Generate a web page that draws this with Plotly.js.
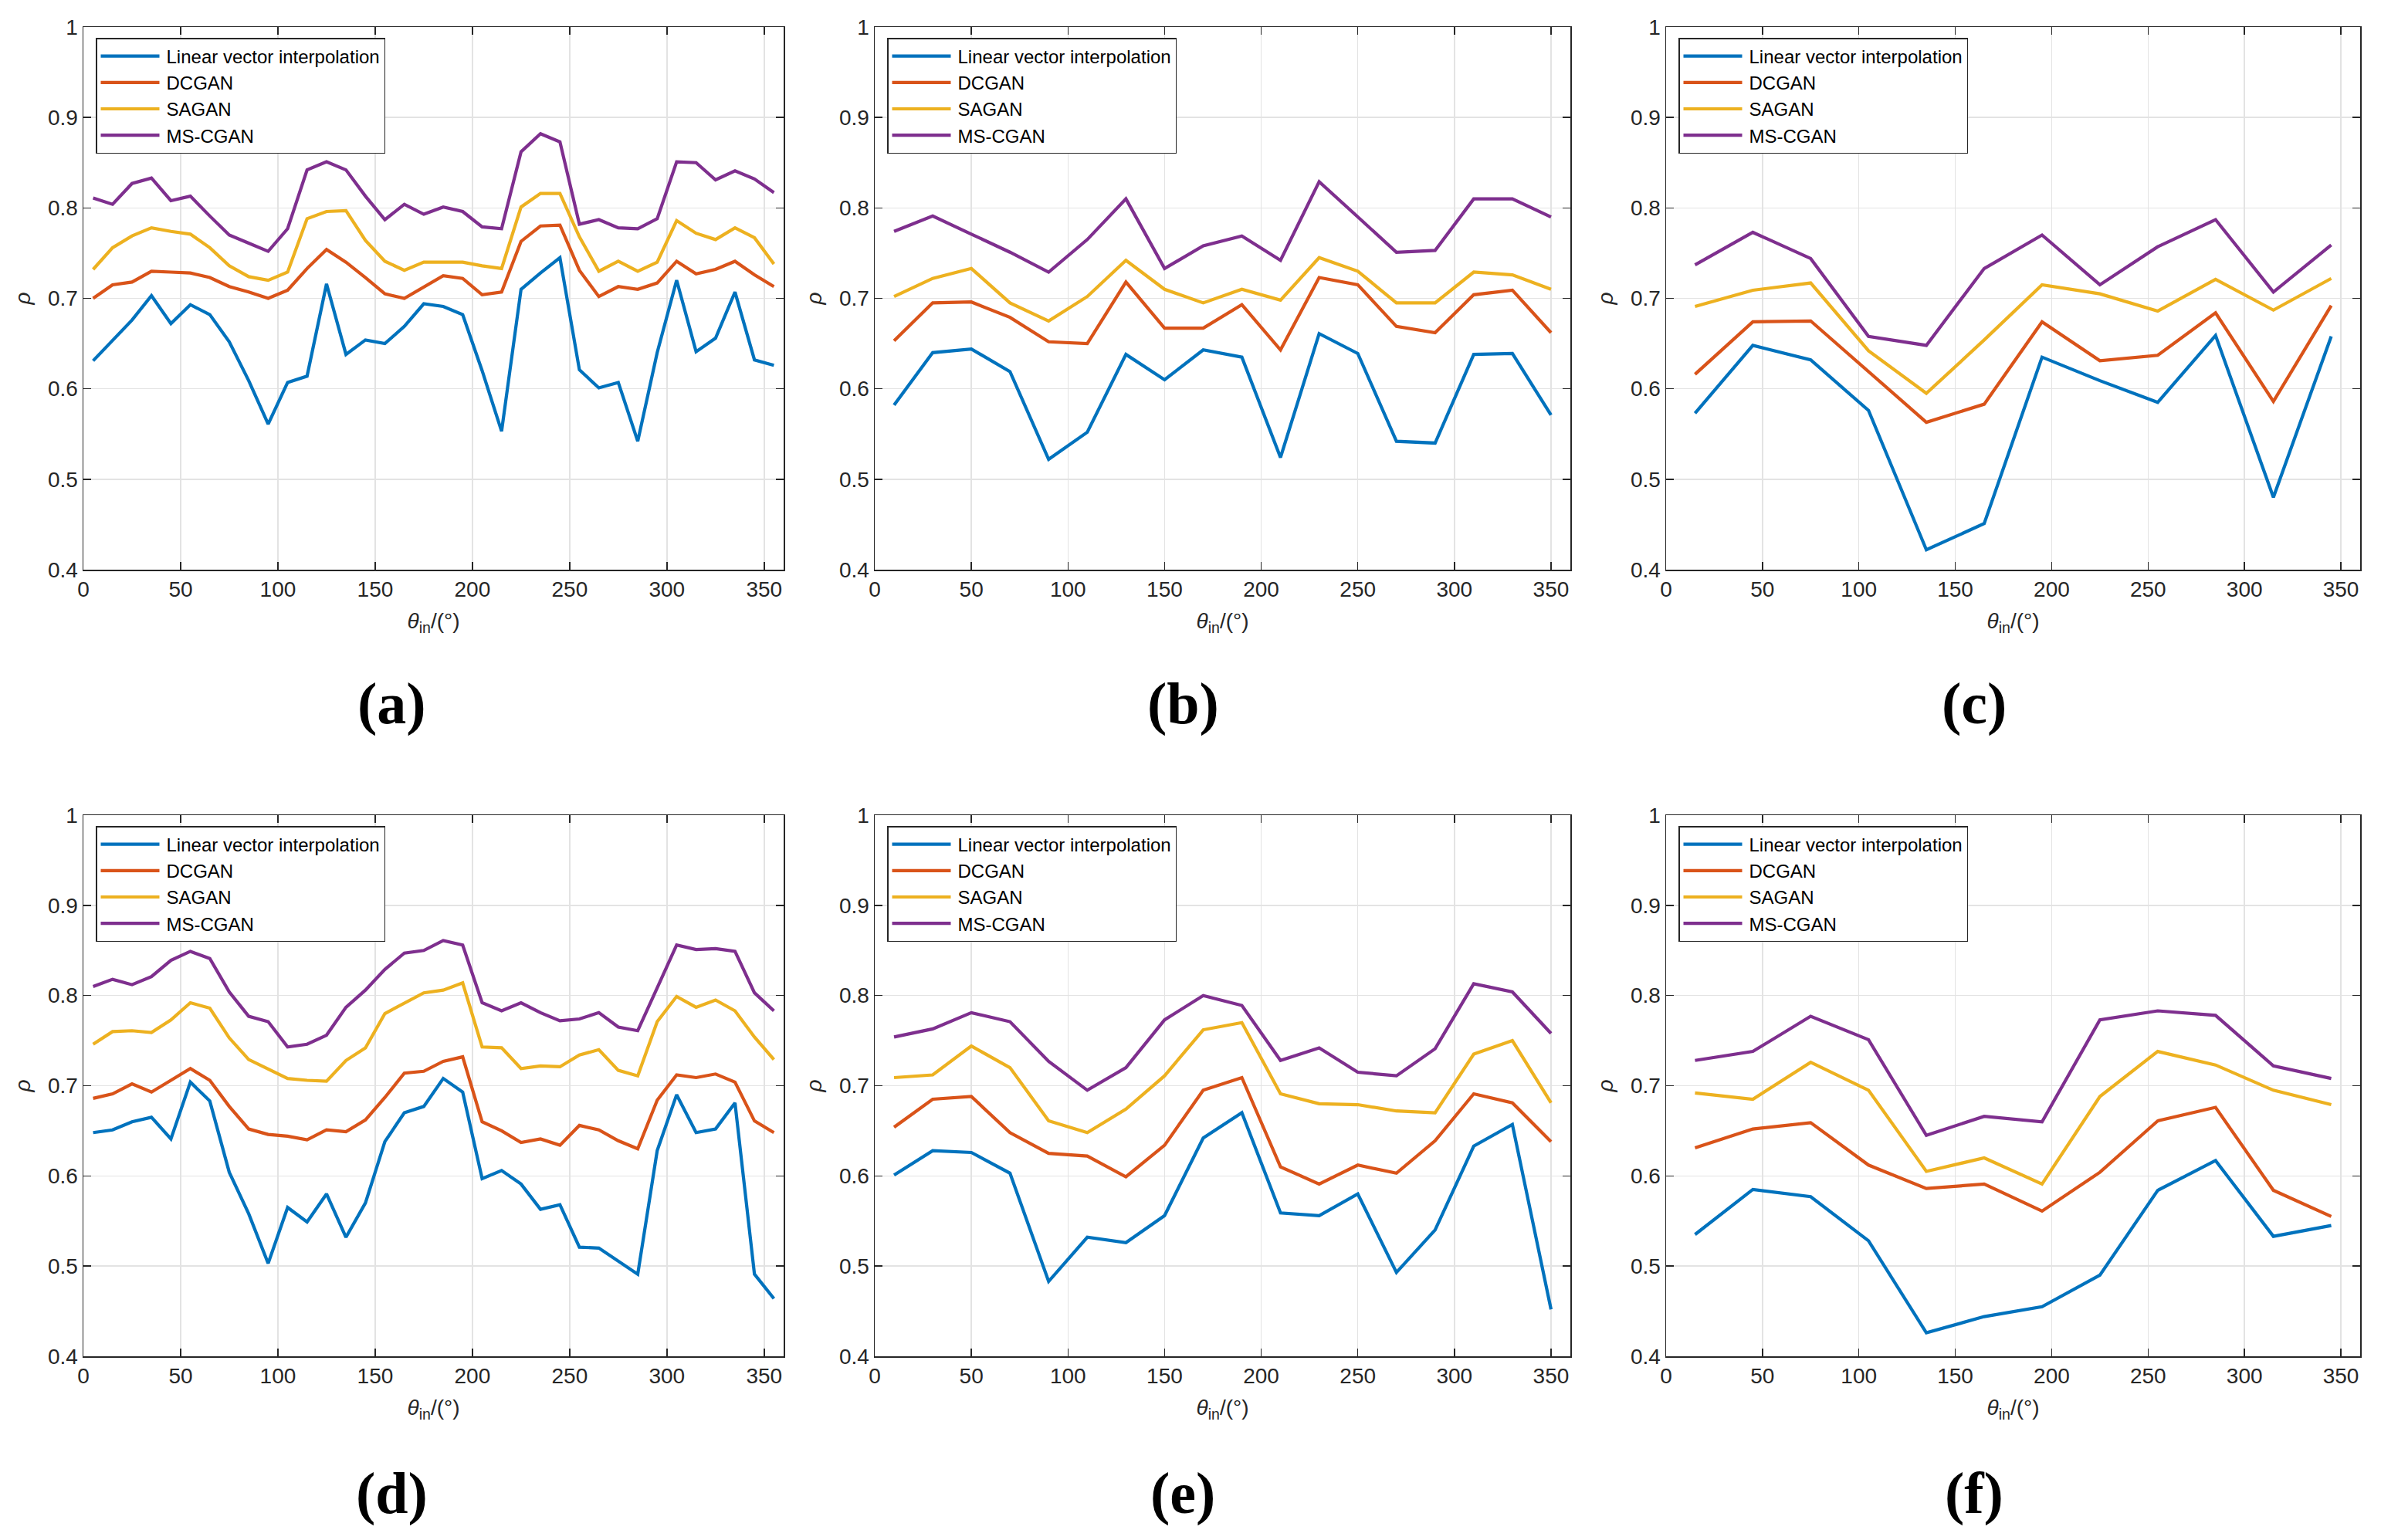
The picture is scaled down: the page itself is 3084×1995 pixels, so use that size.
<!DOCTYPE html>
<html>
<head>
<meta charset="utf-8">
<script src="https://cdn.plot.ly/plotly-3.0.1.min.js"></script>
<style>
  html, body { margin: 0; padding: 0; background: #fff; }
  #chart { width: 3084px; height: 1995px; }
</style>
</head>
<body>
<div id="chart"></div>
<script>
// Константы
const CHART_ELEM_ID = "chart";
const SERIES_NAMES = ["Linear vector interpolation", "DCGAN", "SAGAN", "MS-CGAN"];
const SERIES_COLORS = ["#0072BD", "#D95319", "#EDB120", "#7E2F8E"];

// Углы падения
const thetaStep10 = [5, 15, 25, 35, 45, 55, 65, 75, 85, 95, 105, 115, 125, 135, 145, 155, 165, 175,
  185, 195, 205, 215, 225, 235, 245, 255, 265, 275, 285, 295, 305, 315, 325, 335, 345, 355];
const thetaStep20 = [10, 30, 50, 70, 90, 110, 130, 150, 170, 190, 210, 230, 250, 270, 290, 310, 330, 350];
const thetaStep30 = [15, 45, 75, 105, 135, 165, 195, 225, 255, 285, 315, 345];

const xTicks = [0, 50, 100, 150, 200, 250, 300, 350];
const yTicks = [0.4, 0.5, 0.6, 0.7, 0.8, 0.9, 1];

// Данные (a)
const aLinear = [0.631, 0.653, 0.676, 0.703, 0.672, 0.693, 0.682, 0.652, 0.609, 0.561, 0.607, 0.614,
  0.716, 0.638, 0.654, 0.650, 0.669, 0.694, 0.691, 0.682, 0.620, 0.553, 0.710, 0.728,
  0.745, 0.621, 0.601, 0.607, 0.542, 0.640, 0.720, 0.641, 0.656, 0.707, 0.632, 0.626];
const aDCGAN = [0.700, 0.715, 0.718, 0.730, 0.729, 0.728, 0.723, 0.713, 0.707, 0.700, 0.709, 0.733,
  0.754, 0.740, 0.723, 0.705, 0.700, 0.713, 0.725, 0.722, 0.704, 0.707, 0.763, 0.780,
  0.781, 0.731, 0.702, 0.713, 0.710, 0.717, 0.741, 0.727, 0.732, 0.741, 0.726, 0.713];
const aSAGAN = [0.732, 0.756, 0.769, 0.778, 0.774, 0.771, 0.756, 0.736, 0.724, 0.720, 0.729, 0.788,
  0.796, 0.797, 0.764, 0.741, 0.731, 0.740, 0.740, 0.740, 0.736, 0.733, 0.801, 0.816,
  0.816, 0.768, 0.730, 0.741, 0.730, 0.740, 0.786, 0.772, 0.765, 0.778, 0.767, 0.738];
const aMSCGAN = [0.811, 0.804, 0.827, 0.833, 0.808, 0.813, 0.791, 0.770, 0.761, 0.752, 0.777, 0.842,
  0.851, 0.842, 0.813, 0.787, 0.804, 0.793, 0.801, 0.796, 0.779, 0.777, 0.862, 0.882,
  0.873, 0.782, 0.787, 0.778, 0.777, 0.788, 0.851, 0.850, 0.831, 0.841, 0.832, 0.817];

// Данные (b)
const bLinear = [0.582, 0.640, 0.644, 0.619, 0.522, 0.552, 0.638, 0.610, 0.643, 0.635, 0.524, 0.661,
  0.639, 0.542, 0.540, 0.638, 0.639, 0.571];
const bDCGAN = [0.653, 0.695, 0.696, 0.679, 0.652, 0.650, 0.718, 0.667, 0.667, 0.693, 0.643, 0.723,
  0.715, 0.669, 0.662, 0.704, 0.709, 0.662];
const bSAGAN = [0.702, 0.722, 0.733, 0.695, 0.675, 0.702, 0.742, 0.710, 0.695, 0.710, 0.698, 0.745,
  0.730, 0.695, 0.695, 0.729, 0.726, 0.710];
const bMSCGAN = [0.774, 0.791, 0.771, 0.751, 0.729, 0.765, 0.810, 0.733, 0.758, 0.769, 0.742, 0.829,
  0.790, 0.751, 0.753, 0.810, 0.810, 0.790];

// Данные (c)
const cLinear = [0.573, 0.648, 0.632, 0.576, 0.422, 0.451, 0.635, 0.609, 0.585, 0.659, 0.480, 0.658];
const cDCGAN = [0.616, 0.674, 0.675, 0.619, 0.563, 0.583, 0.674, 0.631, 0.637, 0.684, 0.586, 0.692];
const cSAGAN = [0.691, 0.709, 0.717, 0.642, 0.595, 0.654, 0.715, 0.705, 0.686, 0.721, 0.687, 0.722];
const cMSCGAN = [0.737, 0.773, 0.744, 0.658, 0.648, 0.733, 0.770, 0.715, 0.757, 0.787, 0.707, 0.759];

// Данные (d)
const dLinear = [0.648, 0.651, 0.660, 0.665, 0.641, 0.704, 0.683, 0.604, 0.558, 0.503, 0.565, 0.549,
  0.580, 0.532, 0.570, 0.638, 0.670, 0.677, 0.708, 0.693, 0.597, 0.606, 0.591, 0.563,
  0.568, 0.521, 0.520, 0.505, 0.491, 0.628, 0.690, 0.648, 0.652, 0.681, 0.491, 0.464];
const dDCGAN = [0.686, 0.691, 0.702, 0.693, 0.706, 0.719, 0.706, 0.677, 0.652, 0.646, 0.644, 0.640,
  0.651, 0.649, 0.662, 0.687, 0.714, 0.716, 0.727, 0.732, 0.660, 0.650, 0.637, 0.641,
  0.634, 0.656, 0.651, 0.639, 0.630, 0.684, 0.712, 0.709, 0.713, 0.704, 0.661, 0.648];
const dSAGAN = [0.746, 0.760, 0.761, 0.759, 0.773, 0.792, 0.786, 0.753, 0.729, 0.718, 0.708, 0.706,
  0.705, 0.728, 0.742, 0.780, 0.791, 0.803, 0.806, 0.814, 0.743, 0.742, 0.719, 0.722,
  0.721, 0.734, 0.740, 0.717, 0.711, 0.771, 0.799, 0.787, 0.795, 0.783, 0.754, 0.729];
const dMSCGAN = [0.810, 0.818, 0.812, 0.821, 0.839, 0.849, 0.841, 0.804, 0.777, 0.771, 0.743, 0.746,
  0.756, 0.787, 0.806, 0.829, 0.847, 0.850, 0.861, 0.856, 0.792, 0.783, 0.792, 0.781,
  0.772, 0.774, 0.781, 0.765, 0.761, 0.808, 0.856, 0.851, 0.852, 0.849, 0.803, 0.783];

// Данные (e)
const eLinear = [0.601, 0.628, 0.626, 0.603, 0.483, 0.532, 0.526, 0.556, 0.642, 0.670, 0.559, 0.556,
  0.580, 0.493, 0.540, 0.633, 0.657, 0.452];
const eDCGAN = [0.654, 0.685, 0.688, 0.648, 0.625, 0.622, 0.599, 0.634, 0.695, 0.709, 0.610, 0.591,
  0.612, 0.603, 0.639, 0.691, 0.681, 0.638];
const eSAGAN = [0.709, 0.712, 0.744, 0.720, 0.661, 0.648, 0.674, 0.711, 0.762, 0.770, 0.691, 0.680,
  0.679, 0.672, 0.670, 0.735, 0.750, 0.681];
const eMSCGAN = [0.754, 0.763, 0.781, 0.771, 0.727, 0.695, 0.720, 0.773, 0.800, 0.789, 0.728, 0.742,
  0.715, 0.711, 0.741, 0.813, 0.804, 0.758];

// Данные (f)
const fLinear = [0.535, 0.585, 0.577, 0.528, 0.426, 0.444, 0.455, 0.490, 0.584, 0.617, 0.533, 0.545];
const fDCGAN = [0.631, 0.652, 0.659, 0.612, 0.586, 0.591, 0.561, 0.604, 0.661, 0.676, 0.584, 0.555];
const fSAGAN = [0.692, 0.685, 0.726, 0.695, 0.605, 0.620, 0.591, 0.688, 0.738, 0.723, 0.695, 0.679];
const fMSCGAN = [0.728, 0.738, 0.777, 0.751, 0.645, 0.666, 0.660, 0.773, 0.783, 0.778, 0.722, 0.708];

// Панели
const panels = [
  { label: "(a)", theta: thetaStep10, series: [aLinear, aDCGAN, aSAGAN, aMSCGAN] },
  { label: "(b)", theta: thetaStep20, series: [bLinear, bDCGAN, bSAGAN, bMSCGAN] },
  { label: "(c)", theta: thetaStep30, series: [cLinear, cDCGAN, cSAGAN, cMSCGAN] },
  { label: "(d)", theta: thetaStep10, series: [dLinear, dDCGAN, dSAGAN, dMSCGAN] },
  { label: "(e)", theta: thetaStep20, series: [eLinear, eDCGAN, eSAGAN, eMSCGAN] },
  { label: "(f)", theta: thetaStep30, series: [fLinear, fDCGAN, fSAGAN, fMSCGAN] },
];

// Геометрия (в долях листа)
const W = 3084;
const H = 1995;
const colDomains = [[108 / W, 1015 / W], [1133 / W, 2034 / W], [2158 / W, 3057 / W]];
const rowDomains = [[1 - 738 / H, 1 - 35 / H], [1 - 1757 / H, 1 - 1056 / H]];
const labelX = [507 / W, 1532 / W, 2557 / W];
const labelY = [1 - 911 / H, 1 - 1934 / H];

const AXIS_COLOR = "#262626";
const GRID_COLOR = "#e3e3e3";
const FONT = "Liberation Sans, Arial, sans-serif";
const LEGEND_LINE_LEN = 76;

/**
 * @description Общие настройки оси
 */
function baseAxis(domain, anchor) {
  return {
    domain: domain,
    anchor: anchor,
    showline: true,
    mirror: "ticks",
    linecolor: AXIS_COLOR,
    linewidth: 1.5,
    ticks: "inside",
    ticklen: 10,
    tickwidth: 1.5,
    tickcolor: AXIS_COLOR,
    showgrid: true,
    gridcolor: GRID_COLOR,
    gridwidth: 1.5,
    zeroline: false,
    tickfont: { family: FONT, size: 28, color: AXIS_COLOR },
  };
}

let data = [];
let layout = {
  width: W,
  height: H,
  margin: { l: 0, r: 0, t: 0, b: 0 },
  paper_bgcolor: "#fff",
  plot_bgcolor: "#fff",
  showlegend: true,
  annotations: [],
};

panels.forEach((panel, i) => {
  const n = i + 1;
  const suffix = n === 1 ? "" : String(n);
  const row = Math.floor(i / 3);
  const col = i % 3;
  const legendName = "legend" + suffix;

  // линии
  panel.series.forEach((values, k) => {
    data.push({
      type: "scatter",
      mode: "lines",
      x: panel.theta,
      y: values,
      name: SERIES_NAMES[k],
      line: { color: SERIES_COLORS[k], width: 4.2 },
      xaxis: "x" + suffix,
      yaxis: "y" + suffix,
      legend: legendName,
      showlegend: true,
    });
  });

  // оси
  let xa = baseAxis(colDomains[col], "y" + suffix);
  xa.range = [0, 360];
  xa.tickvals = xTicks;
  xa.title = {
    text: "<i>θ</i><sub>in</sub>/(°)",
    font: { family: FONT, size: 28, color: AXIS_COLOR },
    standoff: 16,
  };
  layout["xaxis" + suffix] = xa;

  let ya = baseAxis(rowDomains[row], "x" + suffix);
  ya.range = [0.4, 1];
  ya.tickvals = yTicks;
  ya.title = {
    text: "ρ",
    font: { family: FONT, size: 28, color: AXIS_COLOR, style: "italic" },
    standoff: 14,
  };
  layout["yaxis" + suffix] = ya;

  // легенда
  layout[legendName] = {
    x: colDomains[col][0] + 16 / W,
    y: rowDomains[row][1] - 14 / H,
    xanchor: "left",
    yanchor: "top",
    bgcolor: "#fff",
    bordercolor: AXIS_COLOR,
    borderwidth: 1.5,
    itemwidth: LEGEND_LINE_LEN + 4,
    font: { family: FONT, size: 24, color: "#000" },
    tracegroupgap: 0,
  };

  // подпись панели
  layout.annotations.push({
    text: panel.label,
    xref: "paper",
    yref: "paper",
    x: labelX[col],
    y: labelY[row],
    xanchor: "center",
    yanchor: "middle",
    showarrow: false,
    font: { family: "Liberation Serif, Times New Roman, serif", size: 76, color: "#000", weight: 700 },
  });
});

Plotly.newPlot(CHART_ELEM_ID, data, layout, { staticPlot: true }).then(() => {
  // удлиняем образцы линий в легендах
  document.querySelectorAll(".legendlines path").forEach((p) => {
    p.setAttribute("d", "M5,0h" + LEGEND_LINE_LEN);
  });
});
</script>
</body>
</html>
